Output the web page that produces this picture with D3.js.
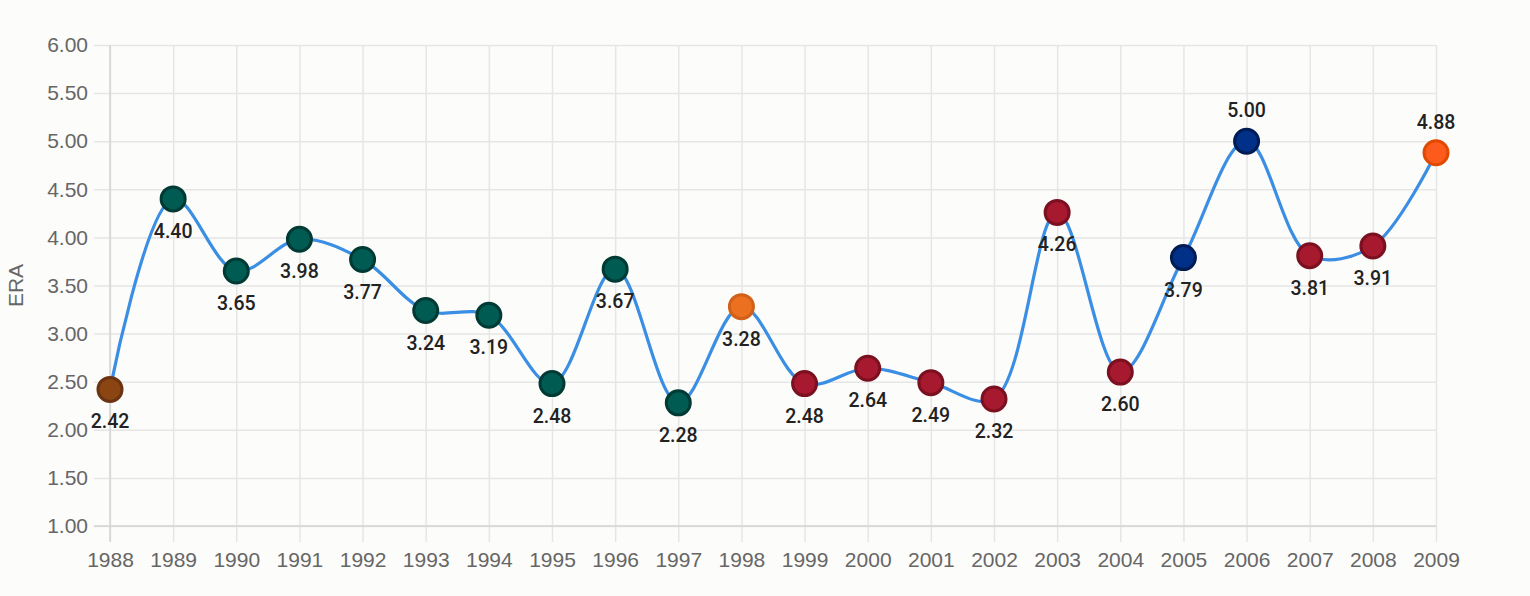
<!DOCTYPE html>
<html>
<head>
<meta charset="utf-8">
<script src="https://cdn.jsdelivr.net/npm/d3@7"></script>
<style>
  body { margin: 0; background: #fcfcfa; }
  svg { display: block; }
  svg text { font-family: "Liberation Sans", Arial, sans-serif; }
  svg text.lbl { font-family: Roboto, "Liberation Sans", sans-serif; font-weight: 500; }
</style>
</head>
<body>
<div id="chart"></div>
<script>
// data
const years = [1988, 1989, 1990, 1991, 1992, 1993, 1994, 1995, 1996, 1997, 1998,
               1999, 2000, 2001, 2002, 2003, 2004, 2005, 2006, 2007, 2008, 2009];
const era = [2.42, 4.40, 3.65, 3.98, 3.77, 3.24, 3.19, 2.48, 3.67, 2.28, 3.28,
             2.48, 2.64, 2.49, 2.32, 4.26, 2.60, 3.79, 5.00, 3.81, 3.91, 4.88];
const teams = ["MON", "SEA", "SEA", "SEA", "SEA", "SEA", "SEA", "SEA", "SEA", "SEA", "HOU",
               "ARI", "ARI", "ARI", "ARI", "ARI", "ARI", "NYY", "NYY", "ARI", "ARI", "SF"];
const yTicks = [1, 1.5, 2, 2.5, 3, 3.5, 4, 4.5, 5, 5.5, 6];

const teamFill = {MON: "#8b4513", SEA: "#005c53", HOU: "#eb7020", ARI: "#a6192e", NYY: "#003087", SF: "#fd5a1e"};
const teamStroke = {MON: "#6b3410", SEA: "#003a34", HOU: "#d2601a", ARI: "#7a1020", NYY: "#001c55", SF: "#e04a00"};

const w = 1530, h = 596;
const margin = {top: 45, right: 94, bottom: 70, left: 110};
const innerWidth = w - margin.left - margin.right;
const innerHeight = h - margin.top - margin.bottom;

const xScale = d3.scaleLinear()
    .domain([d3.min(years), d3.max(years)])
    .range([0, innerWidth]);

const yScale = d3.scaleLinear()
    .domain([1, 6])
    .range([innerHeight, 0]);

const svg = d3.select("#chart")
  .append("svg")
    .attr("width", w)
    .attr("height", h);

svg.append("rect")
    .attr("width", w)
    .attr("height", h)
    .attr("fill", "#fcfcfa");

const g = svg.append("g")
    .attr("transform", `translate(${margin.left}, ${margin.top})`);

// grid + axes
const xAxis = d3.axisBottom(xScale)
    .tickValues(years)
    .tickFormat(d3.format("d"))
    .tickSize(innerHeight + 16)
    .tickPadding(10);

const gx = g.append("g")
    .attr("class", "xAxis")
    .call(xAxis);
gx.attr("font-family", null).attr("font-size", 21);
gx.select(".domain").remove();
gx.selectAll("line").attr("stroke", "#e6e6e6").attr("stroke-width", 1.5);
gx.selectAll("text").attr("fill", "#666");

const yAxis = d3.axisLeft(yScale)
    .tickValues(yTicks)
    .tickFormat(d3.format(".2f"))
    .tickSize(innerWidth + 16)
    .tickPadding(6);

const gy = g.append("g")
    .attr("class", "yAxis")
    .attr("transform", `translate(${innerWidth}, 0)`)
    .call(yAxis);
gy.attr("font-family", null).attr("font-size", 21);
gy.select(".domain").remove();
gy.selectAll("line").attr("stroke", "#e6e6e6").attr("stroke-width", 1.5);
gy.selectAll("text").attr("fill", "#666");

// axis lines
g.append("line")
    .attr("x1", 0).attr("x2", 0)
    .attr("y1", 0).attr("y2", innerHeight + 16)
    .attr("stroke", "#d4d4d4").attr("stroke-width", 1.5);
g.append("line")
    .attr("x1", -16).attr("x2", innerWidth)
    .attr("y1", innerHeight).attr("y2", innerHeight)
    .attr("stroke", "#d4d4d4").attr("stroke-width", 1.5);

svg.append("text")
    .attr("transform", `translate(23, ${margin.top + yScale(3.5)}) rotate(-90)`)
    .attr("text-anchor", "middle")
    .attr("fill", "#666")
    .attr("font-size", 21)
    .text("ERA");

// line
const pts = years.map((y, i) => ({year: y, era: era[i], team: teams[i]}));

const line = d3.line()
    .x(d => xScale(d.year))
    .y(d => yScale(d.era))
    .curve(d3.curveCatmullRom.alpha(0.5));

g.append("path")
    .datum(pts)
    .attr("fill", "none")
    .attr("stroke", "#3a8ee3")
    .attr("stroke-width", 3.2)
    .attr("d", line);

// points
g.selectAll("circle.pt")
  .data(pts)
  .enter().append("circle")
    .attr("class", "pt")
    .attr("cx", d => xScale(d.year))
    .attr("cy", d => yScale(d.era))
    .attr("r", 12)
    .attr("fill", d => teamFill[d.team])
    .attr("stroke", d => teamStroke[d.team])
    .attr("stroke-width", 3);

// value labels
g.selectAll("text.lbl")
  .data(pts)
  .enter().append("text")
    .attr("class", "lbl")
    .attr("x", d => xScale(d.year))
    .attr("y", d => yScale(d.era) + (d.era > 4.5 ? -24 : 39))
    .attr("text-anchor", "middle")
    .attr("fill", "#222")
    .attr("font-size", 19.5)
    .text(d => d3.format(".2f")(d.era));
</script>
</body>
</html>
